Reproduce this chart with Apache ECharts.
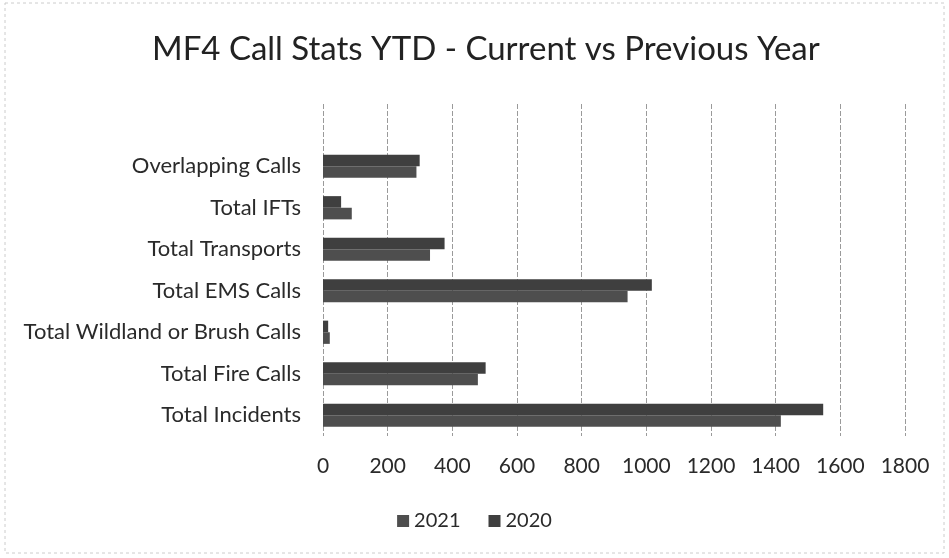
<!DOCTYPE html>
<html>
<head>
<meta charset="utf-8">
<script src="https://cdn.jsdelivr.net/npm/echarts@6/dist/echarts.min.js"></script>
<style>
html, body { margin: 0; padding: 0; background: #fff; }
#chart { width: 949px; height: 558px; }
</style>
</head>
<body>
<div id="chart"></div>
<script>
// categories bottom to top, last one is the empty row Excel left at the top
var categories = ['Total Incidents', 'Total Fire Calls', 'Total Wildland or Brush Calls',
    'Total EMS Calls', 'Total Transports', 'Total IFTs', 'Overlapping Calls', ''];
var values2021 = [1416, 479, 21, 942, 331, 89, 289, null];
var values2020 = [1547, 503, 16, 1017, 376, 56, 299, null];
var xTicks = [0, 200, 400, 600, 800, 1000, 1200, 1400, 1600, 1800];

var myChart = echarts.init(document.getElementById('chart'));

var option = {
    backgroundColor: '#fff',
    animation: false,
    title: {
        text: 'MF4 Call Stats YTD - Current vs Previous Year',
        left: 147,
        top: 28,
        textStyle: {
            fontFamily: 'Lato',
            fontWeight: 'normal',
            fontSize: 33,
            color: '#222'
        }
    },
    legend: {
        data: ['2021', '2020'],
        bottom: 22,
        left: 'center',
        itemWidth: 12,
        itemHeight: 12,
        itemGap: 28,
        icon: 'rect',
        textStyle: { fontFamily: 'Lato', fontSize: 20, color: '#2a2a2a' }
    },
    grid: {
        left: 323,
        right: 44,
        top: 104,
        bottom: 122
    },
    xAxis: {
        type: 'value',
        min: xTicks[0],
        max: xTicks[xTicks.length - 1],
        interval: 200,
        axisLine: { show: false },
        axisTick: { show: false },
        axisLabel: {
            margin: 20,
            fontFamily: 'Lato',
            fontSize: 21,
            color: '#2a2a2a',
            formatter: function (v) { return String(v); }
        },
        splitLine: {
            lineStyle: { color: '#9a9a9a', type: [5, 2], width: 1 }
        }
    },
    yAxis: {
        type: 'category',
        data: categories,
        axisLine: { show: false },
        axisTick: { show: false },
        axisLabel: {
            margin: 22,
            fontFamily: 'Lato',
            fontSize: 22,
            color: '#2a2a2a'
        }
    },
    // 2020 listed first so it sits on top of each pair, like the Excel original
    series: [{
        name: '2020',
        type: 'bar',
        data: values2020,
        barGap: '0%',
        barCategoryGap: '44%',
        itemStyle: { color: '#3f3f3f' }
    }, {
        name: '2021',
        type: 'bar',
        data: values2021,
        barGap: '0%',
        barCategoryGap: '44%',
        itemStyle: { color: '#4e4e4e' }
    }],
    graphic: [{
        type: 'rect',
        shape: { x: 5, y: 3, width: 939, height: 550 },
        style: { fill: 'none', stroke: '#ccc', lineWidth: 1, lineDash: [3, 3] },
        silent: true
    }]
};

myChart.setOption(option);
</script>
</body>
</html>
